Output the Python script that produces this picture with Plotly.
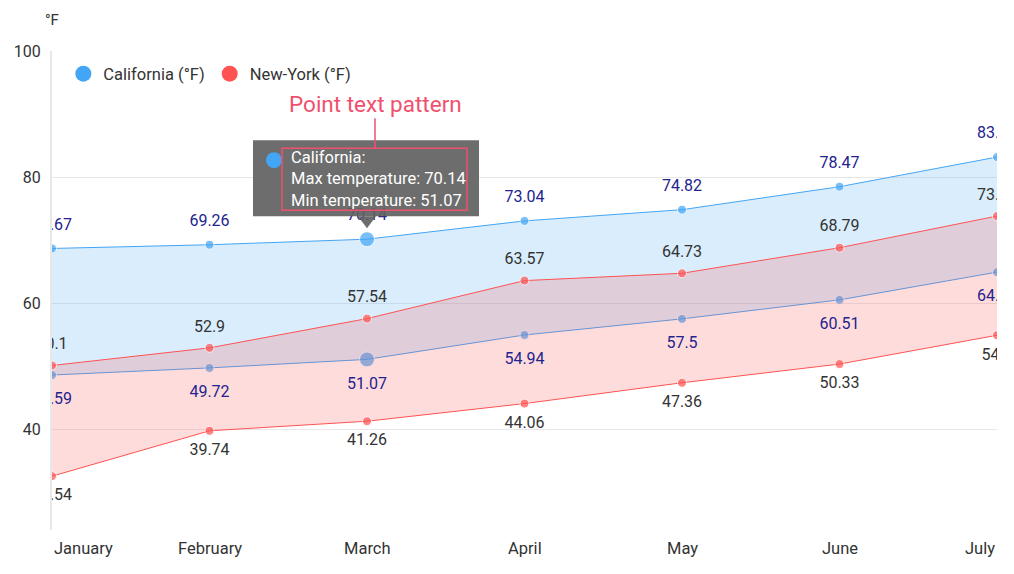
import plotly.graph_objects as go

months = ["January", "February", "March", "April", "May", "June", "July"]
ca_max = [68.67, 69.26, 70.14, 73.04, 74.82, 78.47, 83.17]
ca_min = [48.59, 49.72, 51.07, 54.94, 57.5, 60.51, 64.92]
ny_max = [50.1, 52.9, 57.54, 63.57, 64.73, 68.79, 73.81]
ny_min = [32.54, 39.74, 41.26, 44.06, 47.36, 50.33, 54.9]
y_ticks = [40, 60, 80, 100]

FONT = "Roboto"
CA = "#42a5f5"
NY = "#ff5252"
CA_TXT = "#23238e"
NY_TXT = "#333333"

xs = list(range(len(months)))
hi = months.index("March")
ca_sizes = [15 if i == hi else 9 for i in xs]
norm = [9 for _ in xs]

fig = go.Figure()

def fmt(v):
    return f"{v:g}"

# California range
fig.add_trace(go.Scatter(x=xs, y=ca_min, mode="lines+markers", line=dict(color=CA, width=1),
                         marker=dict(size=ca_sizes, color=CA), showlegend=False, hoverinfo="skip"))
fig.add_trace(go.Scatter(x=xs, y=ca_max, mode="lines+markers", line=dict(color=CA, width=1),
                         marker=dict(size=ca_sizes, color=CA), fill="tonexty",
                         fillcolor="rgba(66,165,245,0.2)", showlegend=False, hoverinfo="skip"))
# New-York range
fig.add_trace(go.Scatter(x=xs, y=ny_min, mode="lines+markers", line=dict(color=NY, width=1),
                         marker=dict(size=norm, color=NY), showlegend=False, hoverinfo="skip"))
fig.add_trace(go.Scatter(x=xs, y=ny_max, mode="lines+markers", line=dict(color=NY, width=1),
                         marker=dict(size=norm, color=NY), fill="tonexty",
                         fillcolor="rgba(255,82,82,0.2)", showlegend=False, hoverinfo="skip"))

# data labels (text-only traces, invisible markers set the offset)
def labels(vals, pos, color, offset_size):
    fig.add_trace(go.Scatter(x=xs, y=vals, mode="markers+text", text=[fmt(v) for v in vals],
                             textposition=pos, textfont=dict(family=FONT, size=16, color=color),
                             marker=dict(size=offset_size, opacity=0), showlegend=False, hoverinfo="skip"))

labels(ca_max, "top center", CA_TXT, 22)
labels(ca_min, "bottom center", CA_TXT, 26)
labels(ny_max, "top center", NY_TXT, 18)
labels(ny_min, "bottom center", NY_TXT, 18)

# legend entries
fig.add_trace(go.Scatter(x=[None], y=[None], mode="markers", name="California (°F)",
                         marker=dict(size=16, color=CA)))
fig.add_trace(go.Scatter(x=[None], y=[None], mode="markers", name="New-York (°F)",
                         marker=dict(size=16, color=NY)))

shapes = []
annotations = []

# x tick labels as annotations (edge labels aligned inward)
for i, m in enumerate(months):
    anchor = "left" if i == 0 else ("right" if i == len(months) - 1 else "center")
    annotations.append(dict(x=i, y=0, xref="x", yref="paper", text=m, showarrow=False,
                            xanchor=anchor, yanchor="middle", yshift=-18,
                            font=dict(family=FONT, size=16.5, color="#333333")))

# axis unit
annotations.append(dict(x=0, y=1, xref="paper", yref="paper", text="°F", showarrow=False,
                        xanchor="center", yanchor="middle", yshift=31,
                        font=dict(family=FONT, size=15, color="#333333")))

# tooltip for March (California)
tx, ty = hi, ca_max[hi]
common = dict(xref="x", yref="y", xsizemode="pixel", ysizemode="pixel", xanchor=tx, yanchor=ty, layer="above")
shapes.append(dict(type="rect", x0=-114, x1=112, y0=23, y1=99, fillcolor="rgba(97,97,97,0.92)",
                   line=dict(width=0), **common))
shapes.append(dict(type="path", path="M -9 23 L 9 23 L 0 11 Z", fillcolor="rgba(97,97,97,0.92)",
                   line=dict(width=0), **common))
shapes.append(dict(type="circle", x0=-101, x1=-85, y0=71, y1=87, fillcolor=CA,
                   line=dict(width=0), **common))
shapes.append(dict(type="rect", x0=-85, x1=100, y0=29, y1=91, fillcolor="rgba(0,0,0,0)",
                   line=dict(color="#f0506e", width=1.5), **common))
shapes.append(dict(type="line", x0=8, x1=8, y0=91, y1=121, line=dict(color="#f0506e", width=1.5), **common))

annotations.append(dict(x=tx, y=ty, xref="x", yref="y", xshift=-78, yshift=60, xanchor="left", yanchor="middle",
                        align="left", showarrow=False,
                        text=f"California:<br>Max temperature: {fmt(ca_max[hi])}<br>Min temperature: {fmt(ca_min[hi])}",
                        font=dict(family=FONT, size=16.5, color="white")))
annotations.append(dict(x=tx, y=ty, xref="x", yref="y", xshift=8, yshift=135, xanchor="center", yanchor="middle",
                        showarrow=False, text="Point text pattern",
                        font=dict(family=FONT, size=22.5, color="#f0506e")))

fig.update_layout(
    width=1014, height=574,
    margin=dict(l=52, r=17, t=51, b=44),
    paper_bgcolor="white", plot_bgcolor="white",
    font=dict(family=FONT, size=15, color="#333333"),
    showlegend=True,
    legend=dict(orientation="h", x=0.012, y=0.952, xanchor="left", yanchor="middle",
                traceorder="normal",
                font=dict(family=FONT, size=16.5, color="#333333"), bgcolor="rgba(0,0,0,0)",
                itemsizing="trace"),
    xaxis=dict(range=[0, len(months) - 1], showgrid=False, zeroline=False, showline=False,
               showticklabels=False, fixedrange=True),
    yaxis=dict(range=[24, 100], tickvals=y_ticks, showgrid=True, gridcolor="#e8e8e8", gridwidth=1,
               zeroline=False, showline=True, linecolor="#e8e8e8", linewidth=2,
               tickfont=dict(family=FONT, size=16, color="#333333"), ticklabelstandoff=6),
    shapes=shapes, annotations=annotations,
)

fig.write_html("out.html")
